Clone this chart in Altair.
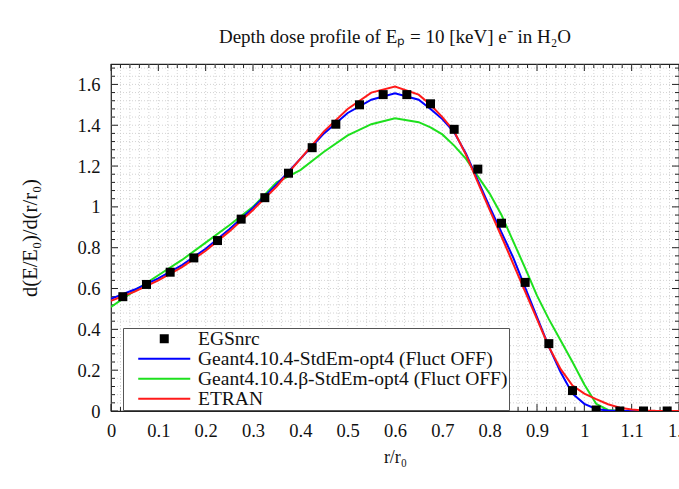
import altair as alt
import pandas as pd
import numpy as np

# ---------------- data ----------------
r_vals = [0, 0.05, 0.1, 0.15, 0.2, 0.25, 0.3, 0.35, 0.4, 0.45,
          0.5, 0.55, 0.6, 0.65, 0.675, 0.7, 0.725, 0.75, 0.775, 0.8,
          0.825, 0.85, 0.875, 0.9, 0.925, 0.95, 0.975, 1.0,
          1.025, 1.05, 1.075, 1.1, 1.125, 1.15, 1.2]

geant_opt4 = [0.55, 0.595, 0.65, 0.715, 0.795, 0.89, 0.995, 1.11, 1.235, 1.36,
              1.46, 1.525, 1.556, 1.525, 1.48, 1.43, 1.365, 1.26, 1.13, 1.0,
              0.875, 0.75, 0.605, 0.46, 0.315, 0.19, 0.085, 0.035,
              0.01, 0.002, 0, 0, 0, 0, 0]

geant_beta = [0.51, 0.59, 0.665, 0.74, 0.825, 0.91, 1.0, 1.12, 1.18, 1.27,
              1.35, 1.405, 1.434, 1.415, 1.39, 1.355, 1.30, 1.235, 1.15, 1.065,
              0.96, 0.83, 0.70, 0.565, 0.45, 0.345, 0.24, 0.13,
              0.035, 0.005, 0, 0, 0, 0, 0]

etran = [0.54, 0.585, 0.64, 0.705, 0.785, 0.88, 0.985, 1.10, 1.235, 1.37,
         1.48, 1.56, 1.59, 1.55, 1.5, 1.44, 1.37, 1.255, 1.12, 0.985,
         0.855, 0.72, 0.585, 0.45, 0.315, 0.205, 0.125, 0.085,
         0.058, 0.033, 0.016, 0.007, 0.003, 0.001, 0]

egs_r = [0.025, 0.075, 0.125, 0.175, 0.225, 0.275, 0.325, 0.375, 0.425, 0.475,
         0.525, 0.575, 0.625, 0.675, 0.725, 0.775, 0.825, 0.875, 0.925, 0.975,
         1.025, 1.075, 1.125, 1.175]
egs_v = [0.56, 0.62, 0.68, 0.75, 0.835, 0.94, 1.045, 1.165, 1.29, 1.405,
         1.50, 1.55, 1.55, 1.505, 1.38, 1.185, 0.92, 0.63, 0.33, 0.10,
         0.005, 0, 0, 0]

series_names = ["EGSnrc",
                "Geant4.10.4-StdEm-opt4 (Fluct OFF)",
                "Geant4.10.4.\u03b2-StdEm-opt4 (Fluct OFF)",
                "ETRAN"]
series_colors = ["#000000", "#0000ff", "#1ee01e", "#ff1a1a"]

x_major = [0, 0.1, 0.2, 0.3, 0.4, 0.5, 0.6, 0.7, 0.8, 0.9, 1.0, 1.1, 1.2]
y_major = [0, 0.2, 0.4, 0.6, 0.8, 1.0, 1.2, 1.4, 1.6]

title_text = "Depth dose profile of E\u209a = 10 [keV] e\u207b in H\u2082O"
x_title = "r/r\u2080"
y_title = "d(E/E\u2080)/d(r/r\u2080)"

# ---------------- geometry ----------------
W, H = 568, 347
XMAX, YMAX = 1.2, 1.7
FONT = "Liberation Serif"

x_minor = [round(v, 3) for v in np.arange(0.02, XMAX, 0.02) if abs(v * 10 - round(v * 10)) > 1e-6]
y_minor = [round(v, 3) for v in np.arange(0.04, YMAX, 0.04) if abs(v * 5 - round(v * 5)) > 1e-6]
x_grid = [round(v, 3) for v in np.arange(0.02, XMAX, 0.02)]
y_grid = [round(v, 3) for v in np.arange(0.04, YMAX, 0.04)]

xs = alt.Scale(domain=[0, XMAX], nice=False, zero=False)
ys = alt.Scale(domain=[0, YMAX], nice=False, zero=False)

xaxis = alt.Axis(values=x_major, format=".1~f", title=x_title, grid=False, ticks=False,
                 tickSize=0, domain=False, labelFont=FONT, labelFontSize=18.5, labelColor="#111",
                 labelPadding=10, titleFont=FONT, titleFontSize=18, titleFontWeight="normal",
                 titleColor="#111", titlePadding=9, labelFlush=False, labelOverlap=False)
yaxis = alt.Axis(values=y_major, format=".1~f", title=y_title, grid=False, ticks=False,
                 tickSize=0, domain=False, labelFont=FONT, labelFontSize=18.5, labelColor="#111",
                 labelPadding=11, titleFont=FONT, titleFontSize=20.5, titleFontWeight="normal",
                 titleColor="#111", titlePadding=36, labelFlush=False, labelOverlap=False)


def X():
    return alt.X("r:Q", scale=xs, axis=xaxis)


def Y():
    return alt.Y("v:Q", scale=ys, axis=yaxis)


egs_df = pd.DataFrame({"r": egs_r, "v": egs_v, "series": series_names[0]})

# ---------------- grid ----------------
grid_x = alt.Chart(pd.DataFrame({"r": x_grid})).mark_rule(
    color="#c8c8c8", strokeWidth=0.8, strokeDash=[1, 2]
).encode(x=X(), y=alt.value(0), y2=alt.value(H))
grid_y = alt.Chart(pd.DataFrame({"v": y_grid})).mark_rule(
    color="#c8c8c8", strokeWidth=0.8, strokeDash=[1, 2]
).encode(y=Y(), x=alt.value(0), x2=alt.value(W))

# ---------------- inward ticks ----------------
tick_layers = []
for vals, ln in ((x_major, 7), (x_minor, 4)):
    d = pd.DataFrame({"r": vals})
    tick_layers.append(alt.Chart(d).mark_rule(color="#222", strokeWidth=1).encode(
        x=X(), y=alt.value(H), y2=alt.value(H - ln)))
    tick_layers.append(alt.Chart(d).mark_rule(color="#222", strokeWidth=1).encode(
        x=X(), y=alt.value(0), y2=alt.value(ln)))
for vals, ln in ((y_major, 7), (y_minor, 4)):
    d = pd.DataFrame({"v": vals})
    tick_layers.append(alt.Chart(d).mark_rule(color="#222", strokeWidth=1).encode(
        y=Y(), x=alt.value(0), x2=alt.value(ln)))
    tick_layers.append(alt.Chart(d).mark_rule(color="#222", strokeWidth=1).encode(
        y=Y(), x=alt.value(W), x2=alt.value(W - ln)))

# ---------------- curves ----------------
line_layers = []
for vals, col in ((geant_beta, series_colors[2]), (geant_opt4, series_colors[1]), (etran, series_colors[3])):
    line_layers.append(
        alt.Chart(pd.DataFrame({"r": r_vals, "v": vals})).mark_line(
            strokeWidth=2, color=col, clip=True).encode(x=X(), y=Y())
    )

LINEPATH = "M-5.78,-0.24H5.78V0.24H-5.78Z"
legend = alt.Legend(title=None, orient="none", legendX=12, legendY=264, direction="vertical",
                    fillColor="white", strokeColor="#555", padding=1, symbolSize=81,
                    symbolOffset=30.5, labelOffset=24, labelFont=FONT, labelFontSize=19.5,
                    labelColor="#111", rowPadding=-2.6, symbolStrokeWidth=0, labelLimit=500)

points = alt.Chart(egs_df).mark_point(filled=True, size=81, opacity=1, clip=True).encode(
    x=X(), y=Y(),
    color=alt.Color("series:N", scale=alt.Scale(domain=series_names, range=series_colors),
                    legend=legend),
    shape=alt.Shape("series:N", scale=alt.Scale(domain=series_names,
                                                range=["square", LINEPATH, LINEPATH, LINEPATH]),
                    legend=legend),
)

chart = alt.layer(grid_x, grid_y, *tick_layers, *line_layers, points).properties(
    width=W, height=H,
    title=alt.Title(title_text, font=FONT, fontSize=19, fontWeight="normal", color="#111",
                    anchor="middle", offset=17),
    padding={"left": 111, "top": 64, "right": 0, "bottom": 78},
    autosize=alt.AutoSizeParams(type="none"),
    background="white",
).configure_view(stroke="#222", strokeWidth=1.2)

chart.save("out.html", embed_options={"renderer": "svg", "actions": False})
